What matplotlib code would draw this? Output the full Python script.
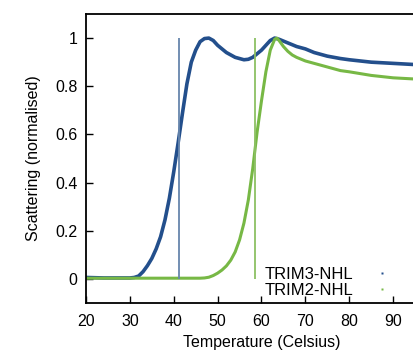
import matplotlib.pyplot as plt
from matplotlib.lines import Line2D

# TRIM3-NHL melt curve
temp_trim3 = [20, 22, 24, 26, 28, 30, 31, 32, 33, 34, 35, 36, 37, 38, 39, 40,
              41, 42, 43, 44, 45, 46, 47, 48, 49, 50, 52, 54, 56, 57, 58, 60,
              61, 62, 63, 64, 66, 68, 70, 72, 75, 78, 80, 85, 90, 95, 100]
scat_trim3 = [0.006, 0.005, 0.004, 0.004, 0.004, 0.004, 0.006, 0.012, 0.03, 0.055,
              0.085, 0.125, 0.175, 0.245, 0.335, 0.445, 0.565, 0.69, 0.81, 0.90,
              0.95, 0.985, 0.998, 1.0, 0.99, 0.97, 0.94, 0.92, 0.91, 0.912, 0.92,
              0.95, 0.97, 0.99, 1.0, 0.995, 0.98, 0.965, 0.955, 0.94, 0.925, 0.915,
              0.91, 0.9, 0.895, 0.89, 0.885]

# TRIM2-NHL melt curve
temp_trim2 = [20, 25, 30, 35, 40, 45, 46, 47, 48, 49, 50, 51, 52, 53, 54, 55, 56,
              57, 58, 59, 60, 61, 62, 63, 63.5, 64, 65, 66, 67, 68, 70, 72, 75,
              78, 80, 85, 90, 95, 100]
scat_trim2 = [0.003, 0.003, 0.003, 0.003, 0.003, 0.003, 0.003, 0.004, 0.007, 0.014,
              0.024, 0.037, 0.054, 0.078, 0.112, 0.162, 0.232, 0.328, 0.458, 0.61,
              0.74, 0.86, 0.95, 0.995, 1.0, 0.99, 0.965, 0.945, 0.93, 0.92, 0.905,
              0.895, 0.88, 0.865, 0.86, 0.845, 0.835, 0.83, 0.825]

# melting temperatures (vertical markers)
tm_trim3 = 41.2
tm_trim2 = 58.5

blue = '#234f8c'
green = '#77b845'

plt.rcParams['font.family'] = ['Liberation Sans', 'DejaVu Sans']

fig = plt.figure(figsize=(4.14, 3.53), dpi=100)
ax = fig.add_axes([86 / 414, 50 / 353, 351 / 414, 289 / 353])

ax.plot(temp_trim3, scat_trim3, color=blue, lw=2.6, solid_capstyle='round')
ax.plot(temp_trim2, scat_trim2, color=green, lw=2.2, solid_capstyle='round')
ax.vlines(tm_trim3, 0, 1, color='#6786ad', lw=1.3)
ax.vlines(tm_trim2, 0, 1, color='#8cc063', lw=1.3)

ax.set_xlim(20, 100)
ax.set_ylim(-0.1, 1.1)
ax.set_xticks([20, 30, 40, 50, 60, 70, 80, 90])
ax.set_yticks([0, 0.2, 0.4, 0.6, 0.8, 1])
ax.set_yticklabels(['0', '0.2', '0.4', '0.6', '0.8', '1'])
ax.tick_params(direction='in', length=5, width=1, labelsize=11.5, pad=8)
ax.tick_params(axis='y', pad=6)
for s in ax.spines.values():
    s.set_linewidth(1.3)

ax.set_xlabel('Temperature (Celsius)', fontsize=11.5, labelpad=4)
ax.set_ylabel('Scattering (normalised)', fontsize=11.5, labelpad=10)

handles = [Line2D([], [], ls='none', marker='s', ms=1.5, color=blue, mec='none'),
           Line2D([], [], ls='none', marker='s', ms=1.5, color=green, mec='none')]
ax.legend(handles, ['TRIM3-NHL', 'TRIM2-NHL'], loc='lower left',
          bbox_to_anchor=(0.465, -0.035), frameon=False, markerfirst=False,
          fontsize=12, labelspacing=0.05, handlelength=1.5, handletextpad=1.0)

fig.savefig('out.png', dpi=100)
